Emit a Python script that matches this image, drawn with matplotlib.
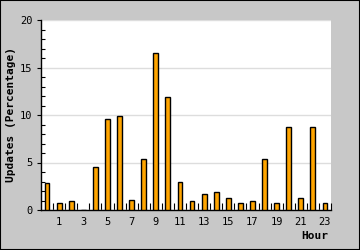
import matplotlib
matplotlib.use("Agg")
import matplotlib.pyplot as plt
from matplotlib.ticker import MultipleLocator, FixedLocator
from matplotlib.patches import Rectangle

hours = list(range(24))
updates = [2.8, 0.7, 0.9, 0.0, 4.5, 9.6, 9.9, 1.1, 5.4, 16.5, 11.9, 3.0,
           0.9, 1.65, 1.85, 1.3, 0.7, 0.9, 5.4, 0.7, 8.7, 1.3, 8.7, 0.7]
xtick_hours = list(range(1, 24, 2))
xtick_labels = [str(h) for h in xtick_hours]
yticks = [0, 5, 10, 15, 20]

plt.rcParams['font.family'] = ['DejaVu Sans Mono', 'DejaVu Sans']

fig = plt.figure(figsize=(3.6, 2.5), dpi=100, facecolor='#c8c8c8')
fig.patches.append(Rectangle((0, 0), 1, 1, transform=fig.transFigure, fill=False,
                             edgecolor='black', linewidth=1.5, zorder=10))
ax = fig.add_axes([41/360, 40/250, 290/360, 190/250])
ax.set_facecolor('white')

ax.bar(hours, updates, width=0.4, color='#FFA500', edgecolor='black', linewidth=1.0, zorder=3)

ax.set_xlim(-0.5, 23.5)
ax.set_ylim(0, 20)

for s in ['top', 'right']:
    ax.spines[s].set_visible(False)
for s in ['left', 'bottom']:
    ax.spines[s].set_linewidth(1.0)
    ax.spines[s].set_color('black')

ax.set_yticks(yticks)
ax.yaxis.set_minor_locator(MultipleLocator(1))
ax.grid(axis='y', which='major', color='#dddddd', linewidth=1, zorder=0)
ax.tick_params(axis='y', which='major', direction='out', length=3, width=0.8,
               labelsize=7.5, pad=3)
ax.tick_params(axis='y', which='minor', direction='in', length=3, width=0.8)

ax.set_xticks(xtick_hours)
ax.set_xticklabels(xtick_labels)
ax.xaxis.set_minor_locator(FixedLocator([h + 0.5 for h in hours]))
ax.tick_params(axis='x', which='major', length=0, labelsize=7.5, pad=5)
ax.tick_params(axis='x', which='minor', direction='in', length=5, width=0.8)

ax.set_ylabel('Updates (Percentage)', fontsize=8, fontweight='bold')
ax.yaxis.set_label_coords((16 - 41) / 290, 0.5)
fig.text(328/360, 1 - 236/250, 'Hour', ha='right', va='center', fontsize=8, fontweight='bold')

fig.savefig('out.png', dpi=100, facecolor=fig.get_facecolor())
